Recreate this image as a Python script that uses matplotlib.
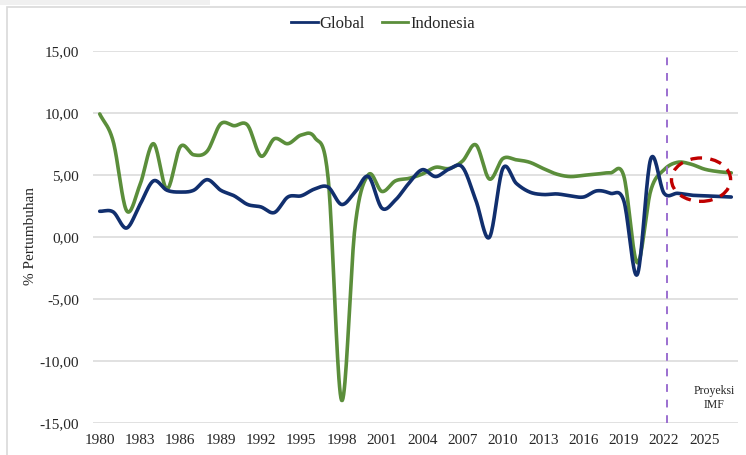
import numpy as np
import matplotlib
matplotlib.use("Agg")
import matplotlib.pyplot as plt
from matplotlib.patches import Ellipse, Rectangle
from matplotlib.lines import Line2D

years = list(range(1980, 2028))
global_growth = [2.05, 2.0, 0.7, 2.6, 4.5, 3.75, 3.6, 3.75, 4.6, 3.75,
                 3.3, 2.6, 2.4, 1.95, 3.2, 3.3, 3.85, 4.0, 2.6, 3.6,
                 4.85, 2.3, 2.95, 4.3, 5.4, 4.85, 5.45, 5.6, 2.9, -0.05,
                 5.5, 4.3, 3.6, 3.4, 3.45, 3.3, 3.2, 3.7, 3.5, 2.9,
                 -3.06, 6.25, 3.5, 3.5, 3.35, 3.3, 3.25, 3.2]
indonesia_growth = [9.9, 7.7, 2.1, 4.2, 7.5, 3.85, 7.26, 6.6, 6.9, 9.1,
                    8.95, 9.0, 6.5, 7.9, 7.5, 8.2, 8.0, 4.7, -13.2, 0.8,
                    5.0, 3.65, 4.5, 4.7, 5.05, 5.6, 5.5, 6.1, 7.4, 4.65,
                    6.3, 6.2, 6.0, 5.5, 5.05, 4.85, 4.95, 5.05, 5.15, 4.9,
                    -2.1, 3.7, 5.4, 6.0, 5.85, 5.45, 5.25, 5.15]
xtick_years = list(range(1980, 2026, 3))
yticks = [-15, -10, -5, 0, 5, 10, 15]
series_names = ["Global", "Indonesia"]
proj_line_year = 2022.25

W, H = 746, 455
fig = plt.figure(figsize=(W / 100, H / 100), dpi=100)

# outer frame decorations
fig.patches.append(Rectangle((0, 1 - 5 / H), 210 / W, 5 / H, transform=fig.transFigure,
                             facecolor="#f0f0f0", edgecolor="none"))
fig.patches.append(Rectangle((7 / W, -0.1), 1.2, 1 - 7 / H + 0.1, transform=fig.transFigure,
                             facecolor="none", edgecolor="#d9d9d9", lw=1.2))

ax = fig.add_axes([93 / W, 1 - 422.7 / H, (738 - 93) / W, (422.7 - 50.7) / H])
ax.set_xlim(1979.5, 2027.5)
ax.set_ylim(-15, 15)


def smooth(x, y, n=20):
    x = np.asarray(x, float)
    y = np.asarray(y, float)
    px = np.concatenate([[2 * x[0] - x[1]], x, [2 * x[-1] - x[-2]]])
    py = np.concatenate([[2 * y[0] - y[1]], y, [2 * y[-1] - y[-2]]])
    xs, ys = [], []
    t = np.linspace(0, 1, n, endpoint=False)
    for i in range(1, len(px) - 2):
        p0, p1, p2, p3 = py[i - 1], py[i], py[i + 1], py[i + 2]
        q0, q1, q2, q3 = px[i - 1], px[i], px[i + 1], px[i + 2]
        def cr(a0, a1, a2, a3):
            return 0.5 * ((2 * a1) + (-a0 + a2) * t + (2 * a0 - 5 * a1 + 4 * a2 - a3) * t ** 2
                          + (-a0 + 3 * a1 - 3 * a2 + a3) * t ** 3)
        xs.append(cr(q0, q1, q2, q3))
        ys.append(cr(p0, p1, p2, p3))
    xs.append([x[-1]])
    ys.append([y[-1]])
    return np.concatenate(xs), np.concatenate(ys)


c_glob = "#112f6e"
c_indo = "#5b8e3b"

for v in yticks:
    ax.axhline(v, color="#d9d9d9", lw=1.1, zorder=0)

xs, ys = smooth(years, global_growth)
ax.plot(xs, ys, color=c_glob, lw=2.6, zorder=3, solid_capstyle="round")
xs, ys = smooth(years, indonesia_growth)
ax.plot(xs, ys, color=c_indo, lw=2.6, zorder=2, solid_capstyle="round")

ax.plot([proj_line_year, proj_line_year], [-15, 15], color="#9b6fd0", lw=1.4,
        ls=(0, (4, 4)), zorder=4)

ax.add_patch(Ellipse((2024.75, 4.6), 4.4, 3.5, facecolor="none", edgecolor="#c00000",
                     lw=2.4, ls=(0, (3.5, 2.5)), zorder=5))

for s in ax.spines.values():
    s.set_visible(False)

serif = ["Liberation Serif", "DejaVu Serif"]
ax.set_xticks(xtick_years)
ax.set_xticklabels([str(y) for y in xtick_years], fontsize=11, family=serif, color="#262626")
ax.set_yticks(yticks)
ax.set_yticklabels([f"{v:.2f}".replace(".", ",") for v in yticks], fontsize=11,
                   family=serif, color="#262626")
ax.tick_params(length=0, pad=10)
ax.tick_params(axis="x", pad=8)

fig.text(30 / W, 1 - 236 / H, "% Pertumbuhan", rotation=90, ha="center", va="center",
         fontsize=11, family=serif, color="#262626")

ax.text(2025.7, -13.0, "Proyeksi\nIMF", ha="center", va="center", fontsize=8.5,
        family=serif, color="#262626", linespacing=1.2)

handles = [Line2D([], [], color=c_glob, lw=2), Line2D([], [], color=c_indo, lw=2)]
leg = fig.legend(handles, series_names, loc="center", bbox_to_anchor=(383 / W, 1 - 24 / H),
                 ncol=2, frameon=False, handlelength=1.6, handletextpad=0.1,
                 columnspacing=1.0, prop={"family": serif, "size": 12})
for t in leg.get_texts():
    t.set_color("#262626")

fig.savefig("out.png", dpi=100)
